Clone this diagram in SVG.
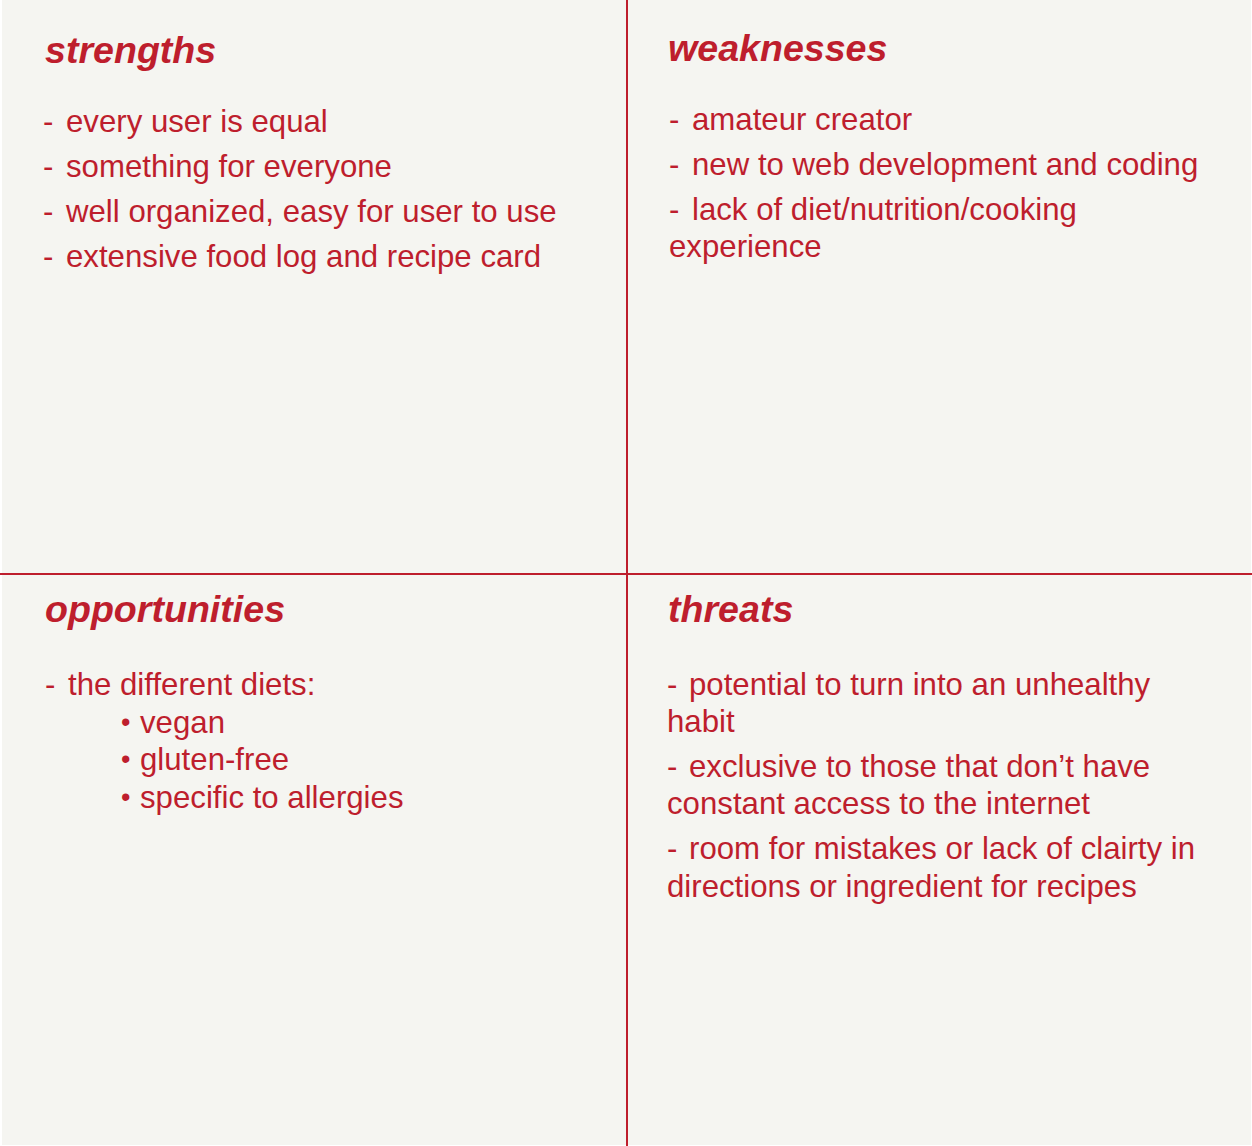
<svg xmlns="http://www.w3.org/2000/svg" width="1252" height="1146" viewBox="0 0 1252 1146">
  <style>
    .bg { fill: #f5f5f1; }
    .rule { stroke: #be1e2d; stroke-width: 2; fill: none; }
    .head { font-family: "Liberation Sans", Arial, sans-serif; font-size: 37.6px; font-weight: bold; font-style: italic; fill: #be1e2d; }
    .item { font-family: "Liberation Sans", Arial, sans-serif; font-size: 31.2px; fill: #be1e2d; }
    .dot { font-size: 27px; }
  </style>
  <rect x="0" y="0" width="1252" height="1146" fill="#ffffff"/>
  <rect class="bg" x="2" y="0" width="1249" height="1145"/>

  <!-- quadrant dividers -->
  <g id="dividers">
    <line class="rule" x1="627" y1="0" x2="627" y2="1146"/>
    <line class="rule" x1="0" y1="574" x2="1252" y2="574"/>
  </g>

  <!-- strengths -->
  <g id="strengths">
    <text class="head" x="45" y="63">strengths</text>
    <text class="item" y="132"><tspan x="43">-</tspan><tspan x="66">every user is equal</tspan></text>
    <text class="item" y="177"><tspan x="43">-</tspan><tspan x="66">something for everyone</tspan></text>
    <text class="item" y="222"><tspan x="43">-</tspan><tspan x="66">well organized, easy for user to use</tspan></text>
    <text class="item" y="267"><tspan x="43">-</tspan><tspan x="66">extensive food log and recipe card</tspan></text>
  </g>

  <!-- weaknesses -->
  <g id="weaknesses">
    <text class="head" x="668" y="61">weaknesses</text>
    <text class="item" y="130"><tspan x="669">-</tspan><tspan x="692">amateur creator</tspan></text>
    <text class="item" y="175"><tspan x="669">-</tspan><tspan x="692">new to web development and coding</tspan></text>
    <text class="item" y="220"><tspan x="669">-</tspan><tspan x="692">lack of diet/nutrition/cooking</tspan></text>
    <text class="item" x="669" y="257">experience</text>
  </g>

  <!-- opportunities -->
  <g id="opportunities">
    <text class="head" x="45" y="622">opportunities</text>
    <text class="item" y="695"><tspan x="45">-</tspan><tspan x="68">the different diets:</tspan></text>
    <text class="item" y="733"><tspan class="dot" x="121" dy="-2">•</tspan><tspan x="140" dy="2">vegan</tspan></text>
    <text class="item" y="770"><tspan class="dot" x="121" dy="-2">•</tspan><tspan x="140" dy="2">gluten-free</tspan></text>
    <text class="item" y="808"><tspan class="dot" x="121" dy="-2">•</tspan><tspan x="140" dy="2">specific to allergies</tspan></text>
  </g>

  <!-- threats -->
  <g id="threats">
    <text class="head" x="668" y="622">threats</text>
    <text class="item" y="695"><tspan x="667">-</tspan><tspan x="689">potential to turn into an unhealthy</tspan></text>
    <text class="item" x="667" y="732">habit</text>
    <text class="item" y="777"><tspan x="667">-</tspan><tspan x="689">exclusive to those that don’t have</tspan></text>
    <text class="item" x="667" y="814">constant access to the internet</text>
    <text class="item" y="859"><tspan x="667">-</tspan><tspan x="689">room for mistakes or lack of clairty in</tspan></text>
    <text class="item" x="667" y="897">directions or ingredient for recipes</text>
  </g>
</svg>
